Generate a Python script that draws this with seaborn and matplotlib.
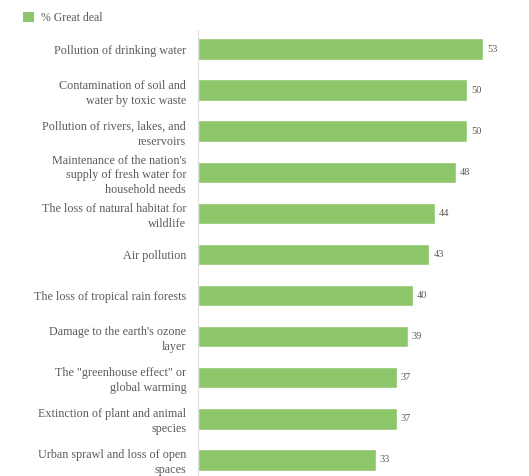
import matplotlib
matplotlib.use("Agg")
import matplotlib.pyplot as plt
import seaborn as sns
import pandas as pd
from matplotlib.patches import Patch

categories = [
    "Pollution of drinking water",
    "Contamination of soil and\nwater by toxic waste",
    "Pollution of rivers, lakes, and\nreservoirs",
    "Maintenance of the nation's\nsupply of fresh water for\nhousehold needs",
    "The loss of natural habitat for\nwildlife",
    "Air pollution",
    "The loss of tropical rain forests",
    "Damage to the earth's ozone\nlayer",
    "The \"greenhouse effect\" or\nglobal warming",
    "Extinction of plant and animal\nspecies",
    "Urban sprawl and loss of open\nspaces",
]
values = [53, 50, 50, 48, 44, 43, 40, 39, 37, 37, 33]
series_name = "% Great deal"

sns.set_style("white")
plt.rcParams["font.family"] = ["Liberation Serif", "DejaVu Serif"]

df = pd.DataFrame({"item": categories, "value": values})

fig = plt.figure(figsize=(5.29, 4.76), dpi=100)
ax = fig.add_axes([198 / 529, 4 / 476, (521 - 198) / 529, (476 - 4 - 30) / 476])

green = "#8cc56a"
sns.barplot(data=df, x="value", y="item", orient="h", color=green,
            width=0.53, ax=ax, saturation=1)

ax.set_xlim(0, 60)
ax.set_ylim(10.3, -0.47)
ax.set_xlabel("")
ax.set_ylabel("")
ax.set_xticks([])
ax.tick_params(axis="y", length=0, pad=8.5, labelsize=8.7, labelcolor="#5a5a5a")
for lab in ax.get_yticklabels():
    lab.set_linespacing(1.3)
for s in ["top", "right", "bottom"]:
    ax.spines[s].set_visible(False)
ax.spines["left"].set_color("#dddddd")
ax.spines["left"].set_linewidth(0.8)
ax.spines["left"].set_bounds(10.3 + 0.2, -0.47)
ax.spines["left"].set_clip_on(False)

for i, v in enumerate(values):
    ax.text(v + 0.7, i, str(v), va="center", ha="left", fontsize=7.5, color="#5a5a5a")

fig.legend(handles=[Patch(facecolor=green, edgecolor="none")], labels=[series_name],
           loc="upper left", bbox_to_anchor=(12 / 529, 1 - 1 / 476), frameon=False,
           fontsize=8.5, handlelength=1.0, handleheight=1.0, handletextpad=0.55,
           labelcolor="#5a5a5a")

fig.savefig("out.png", dpi=100)
